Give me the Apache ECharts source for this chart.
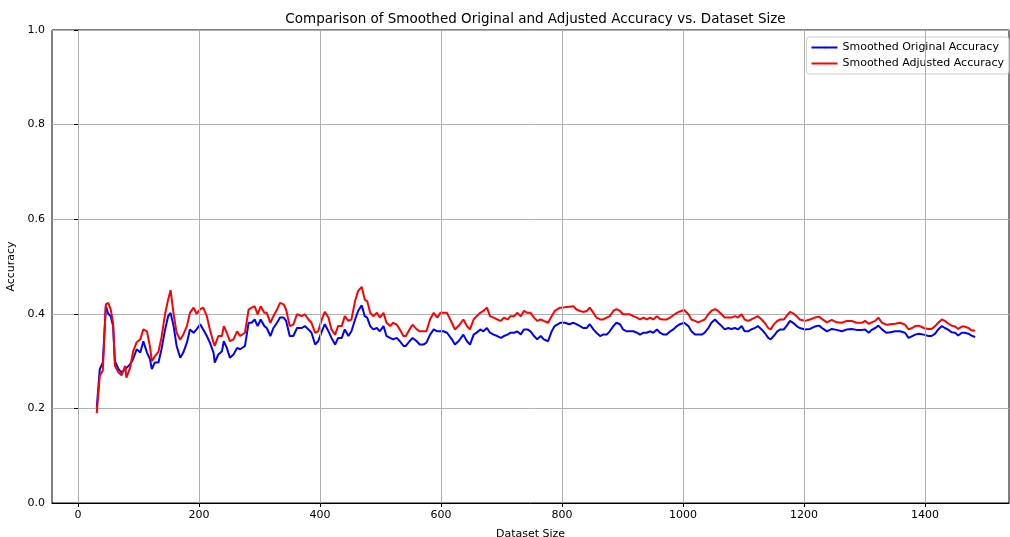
<!DOCTYPE html>
<html>
<head>
<meta charset="utf-8">
<script src="https://cdn.jsdelivr.net/npm/echarts@6/dist/echarts.min.js"></script>
<style>
html,body{margin:0;padding:0;background:#fff;overflow:hidden;}
#chart{width:1010px;height:537px;}
</style>
</head>
<body>
<div id="chart"></div>
<script>
const datasetSize = [31,36,41,46,50,54,58,61,67,72,78,80,86,91,97,103,108,114,119,122,127,133,138,144,149,153,158,163,169,174,180,185,191,196,202,207,213,218,224,226,232,238,241,246,251,257,263,268,276,282,287,292,297,302,308,312,318,323,329,334,340,344,350,356,362,370,375,381,386,392,397,403,408,414,419,425,430,436,441,447,452,458,463,469,474,478,483,488,494,499,505,510,516,521,527,532,538,542,548,553,560,565,571,576,582,588,594,599,604,610,618,623,629,637,643,648,654,659,665,670,676,681,687,693,699,704,710,715,721,726,732,737,743,748,754,759,765,770,777,783,788,797,805,812,819,824,830,835,841,846,852,857,863,868,874,879,885,890,896,901,907,912,918,924,929,935,940,946,951,957,962,968,973,979,984,990,995,1002,1009,1014,1020,1025,1031,1036,1042,1047,1053,1058,1064,1069,1075,1080,1086,1091,1097,1102,1108,1113,1119,1124,1130,1135,1141,1145,1150,1156,1161,1167,1171,1177,1182,1188,1193,1202,1210,1218,1225,1232,1238,1246,1254,1263,1271,1279,1287,1296,1301,1307,1312,1318,1323,1329,1336,1343,1351,1359,1367,1373,1379,1384,1390,1398,1406,1411,1417,1422,1428,1433,1439,1444,1450,1455,1461,1466,1472,1477,1483];

const originalAcc = [0.202,0.283,0.297,0.416,0.40,0.395,0.374,0.30,0.283,0.276,0.283,0.285,0.293,0.304,0.325,0.318,0.342,0.318,0.304,0.283,0.297,0.297,0.325,0.367,0.395,0.402,0.374,0.332,0.307,0.318,0.339,0.367,0.36,0.367,0.378,0.367,0.353,0.339,0.318,0.297,0.314,0.321,0.342,0.328,0.307,0.314,0.328,0.325,0.332,0.381,0.381,0.388,0.374,0.388,0.374,0.37,0.353,0.37,0.381,0.392,0.392,0.385,0.353,0.353,0.37,0.37,0.374,0.367,0.36,0.335,0.342,0.363,0.378,0.363,0.349,0.335,0.349,0.349,0.367,0.353,0.363,0.388,0.406,0.418,0.395,0.392,0.374,0.367,0.37,0.363,0.374,0.353,0.349,0.346,0.349,0.342,0.332,0.332,0.342,0.349,0.342,0.335,0.335,0.339,0.356,0.367,0.363,0.363,0.363,0.36,0.346,0.335,0.342,0.356,0.342,0.335,0.356,0.36,0.367,0.363,0.37,0.36,0.356,0.353,0.349,0.353,0.356,0.36,0.36,0.363,0.356,0.367,0.367,0.363,0.353,0.346,0.353,0.346,0.342,0.363,0.374,0.381,0.381,0.378,0.381,0.378,0.374,0.37,0.37,0.378,0.367,0.36,0.353,0.356,0.356,0.363,0.374,0.381,0.378,0.367,0.363,0.363,0.363,0.36,0.356,0.36,0.36,0.363,0.36,0.367,0.36,0.356,0.356,0.363,0.367,0.374,0.378,0.381,0.374,0.363,0.356,0.356,0.356,0.36,0.37,0.381,0.388,0.381,0.374,0.367,0.37,0.368,0.37,0.367,0.374,0.363,0.363,0.367,0.37,0.374,0.367,0.36,0.349,0.346,0.353,0.363,0.367,0.367,0.374,0.385,0.381,0.374,0.37,0.367,0.368,0.373,0.375,0.368,0.363,0.368,0.366,0.363,0.367,0.368,0.366,0.366,0.367,0.36,0.366,0.37,0.375,0.367,0.36,0.361,0.363,0.363,0.36,0.349,0.353,0.356,0.358,0.356,0.353,0.353,0.358,0.367,0.374,0.37,0.366,0.361,0.36,0.354,0.36,0.36,0.358,0.354,0.351];

const adjustedAcc = [0.19,0.269,0.28,0.42,0.423,0.41,0.38,0.29,0.276,0.27,0.29,0.265,0.285,0.32,0.34,0.346,0.367,0.363,0.33,0.30,0.31,0.32,0.35,0.40,0.43,0.45,0.40,0.36,0.345,0.356,0.374,0.402,0.413,0.40,0.41,0.413,0.395,0.367,0.339,0.332,0.353,0.353,0.374,0.36,0.342,0.346,0.363,0.353,0.36,0.409,0.413,0.416,0.399,0.416,0.402,0.402,0.381,0.395,0.409,0.423,0.42,0.409,0.374,0.377,0.399,0.395,0.399,0.388,0.381,0.36,0.363,0.388,0.404,0.392,0.367,0.356,0.374,0.374,0.395,0.385,0.388,0.427,0.448,0.457,0.43,0.427,0.402,0.395,0.402,0.392,0.402,0.381,0.374,0.381,0.377,0.367,0.353,0.353,0.367,0.377,0.367,0.363,0.363,0.363,0.388,0.402,0.392,0.402,0.402,0.402,0.381,0.367,0.374,0.388,0.374,0.367,0.388,0.395,0.402,0.406,0.413,0.395,0.392,0.388,0.385,0.392,0.388,0.395,0.395,0.402,0.395,0.406,0.402,0.402,0.392,0.385,0.388,0.385,0.381,0.395,0.406,0.413,0.414,0.415,0.416,0.409,0.406,0.404,0.406,0.413,0.402,0.392,0.388,0.388,0.392,0.395,0.406,0.41,0.406,0.399,0.399,0.399,0.395,0.392,0.388,0.392,0.388,0.392,0.388,0.395,0.389,0.388,0.388,0.392,0.397,0.402,0.405,0.408,0.399,0.388,0.385,0.382,0.385,0.388,0.399,0.406,0.41,0.406,0.399,0.392,0.392,0.392,0.395,0.392,0.399,0.388,0.385,0.388,0.392,0.395,0.388,0.381,0.37,0.367,0.377,0.385,0.388,0.388,0.395,0.404,0.401,0.395,0.388,0.385,0.388,0.392,0.394,0.387,0.382,0.387,0.382,0.381,0.385,0.385,0.381,0.381,0.385,0.379,0.382,0.385,0.392,0.381,0.377,0.378,0.379,0.381,0.377,0.367,0.37,0.374,0.375,0.37,0.368,0.368,0.374,0.381,0.388,0.385,0.379,0.375,0.373,0.368,0.373,0.373,0.37,0.365,0.364];

const xTicks = [0,200,400,600,800,1000,1200,1400];
const seriesNames = ['Smoothed Original Accuracy','Smoothed Adjusted Accuracy'];

const pair = (xs, ys) => xs.map((x, i) => [x, ys[i]]);

const chart = echarts.init(document.getElementById('chart'), null, {renderer:'canvas'});
const font = 'DejaVu Sans';
chart.setOption({
  animation:false,
  backgroundColor:'#fff',
  title:{
    text:'Comparison of Smoothed Original and Adjusted Accuracy vs. Dataset Size',
    left:530.5, textAlign:'center', top:7,
    textStyle:{fontFamily:font,fontSize:13.5,fontWeight:'normal',color:'#000'}
  },
  legend:{
    data:seriesNames,
    orient:'vertical',
    right:1, top:37,
    itemWidth:26, itemHeight:2, itemGap:5,
    padding:[5,5,5,4],
    borderColor:'#cccccc', borderWidth:1, borderRadius:3,
    backgroundColor:'rgba(255,255,255,0.8)',
    textStyle:{fontFamily:font,fontSize:11,color:'#000'}
  },
  grid:{left:52,right:1,top:30,bottom:34,show:true,borderColor:'#000',borderWidth:1,containLabel:false,outerBoundsMode:'none'},
  xAxis:{
    type:'value', min:-43, max:1539,
    name:'Dataset Size', nameLocation:'middle', nameGap:26,
    nameTextStyle:{fontFamily:font,fontSize:11,color:'#000'},
    axisLine:{show:true,lineStyle:{color:'#000',width:1}},
    axisTick:{show:true,length:4,customValues:xTicks,lineStyle:{color:'#000'}},
    axisLabel:{customValues:xTicks,fontFamily:font,fontSize:11,color:'#000',margin:7,formatter:v=>String(v)},
    splitLine:{show:false}
  },
  yAxis:{
    type:'value', min:0, max:1, interval:0.2,
    name:'Accuracy', nameLocation:'middle', nameGap:32,
    nameTextStyle:{fontFamily:font,fontSize:11,color:'#000'},
    axisLine:{show:true,lineStyle:{color:'#000',width:1}},
    axisTick:{show:true,length:4,lineStyle:{color:'#000'}},
    axisLabel:{fontFamily:font,fontSize:11,color:'#000',margin:7,formatter:v=>v.toFixed(1)},
    splitLine:{show:true,lineStyle:{color:'#b0b0b0',width:1}}
  },
  series:[
    {
      type:'line', name:'_grid', data:[], z:1, silent:true,
      markLine:{silent:true,symbol:['none','none'],label:{show:false},
        lineStyle:{color:'#b0b0b0',width:1,type:'solid'},
        data:xTicks.map(v=>({xAxis:v}))}
    },
    {
      type:'line', name:seriesNames[0], data:pair(datasetSize, originalAcc),
      showSymbol:false, symbol:'none', z:3,
      lineStyle:{color:'#0000ff',width:2}, itemStyle:{color:'#0000ff'}
    },
    {
      type:'line', name:seriesNames[1], data:pair(datasetSize, adjustedAcc),
      showSymbol:false, symbol:'none', z:4,
      lineStyle:{color:'#ff0000',width:2}, itemStyle:{color:'#ff0000'}
    }
  ]
});
</script>
</body>
</html>
